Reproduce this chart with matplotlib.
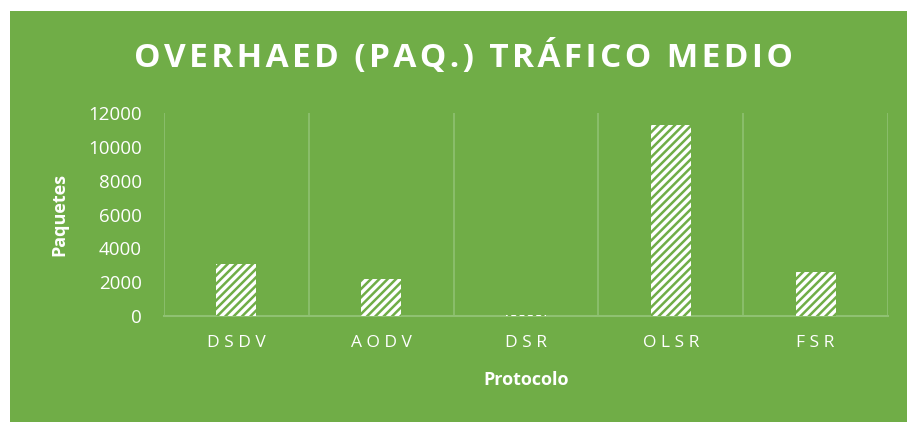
import matplotlib.pyplot as plt
from matplotlib.patches import Rectangle

# Data ----------------------------------
protocolos = ['DSDV', 'AODV', 'DSR', 'OLSR', 'FSR']
paquetes = [3050, 2190, 40, 11290, 2590]
yticks = [0, 2000, 4000, 6000, 8000, 10000, 12000]

green = '#70AD47'
grid_green = '#8FC172'

plt.rcParams['font.family'] = ['Open Sans', 'DejaVu Sans']
plt.rcParams['hatch.linewidth'] = 1.8

fig = plt.figure(figsize=(9.07, 4.22), dpi=100, facecolor='white')
# green chart area (starts a bit inside the white border)
fig.patches.append(Rectangle((10 / 907, 0), 1, 1 - 11 / 422, transform=fig.transFigure,
                             facecolor=green, edgecolor='none', zorder=-1))

ax = fig.add_axes([164 / 907, 1 - 316 / 422, (888 - 164) / 907, (316 - 113) / 422])
ax.set_facecolor('none')
ax.set_zorder(2)

x = range(len(protocolos))
ax.bar(x, paquetes, width=0.276, color='white', edgecolor=green, linewidth=0,
       hatch='////', zorder=3)

ax.set_xlim(-0.5, len(protocolos) - 0.5)
ax.set_ylim(0, 12000)
ax.set_yticks(yticks)
ax.set_yticklabels([str(v) for v in yticks], color='white', fontsize=13.5)
ax.set_xticks(list(x))
ax.set_xticklabels([' '.join(p) for p in protocolos], color='white', fontsize=12.5)
ax.tick_params(axis='y', length=0, pad=16)
ax.tick_params(axis='x', length=0, pad=14)

# vertical separators between categories
for b in [i - 0.5 for i in range(len(protocolos) + 1)]:
    ax.axvline(b, color=grid_green, linewidth=1.2, zorder=1)

for s in ['top', 'right', 'left']:
    ax.spines[s].set_visible(False)
ax.spines['bottom'].set_color(grid_green)
ax.spines['bottom'].set_linewidth(1.5)

ax.set_ylabel('Paquetes', color='white', fontsize=13, fontweight='bold', labelpad=14)
ax.set_xlabel('Protocolo', color='white', fontsize=13, fontweight='bold', labelpad=14)

titulo = 'OVERHAED (PAQ.) TRÁFICO MEDIO'
fig.text(463 / 907, 1 - 57 / 422, '\u200a'.join(titulo), color='white',
         fontsize=24, fontweight='bold', ha='center', va='center')

fig.savefig('out.png', dpi=100, facecolor='white')
